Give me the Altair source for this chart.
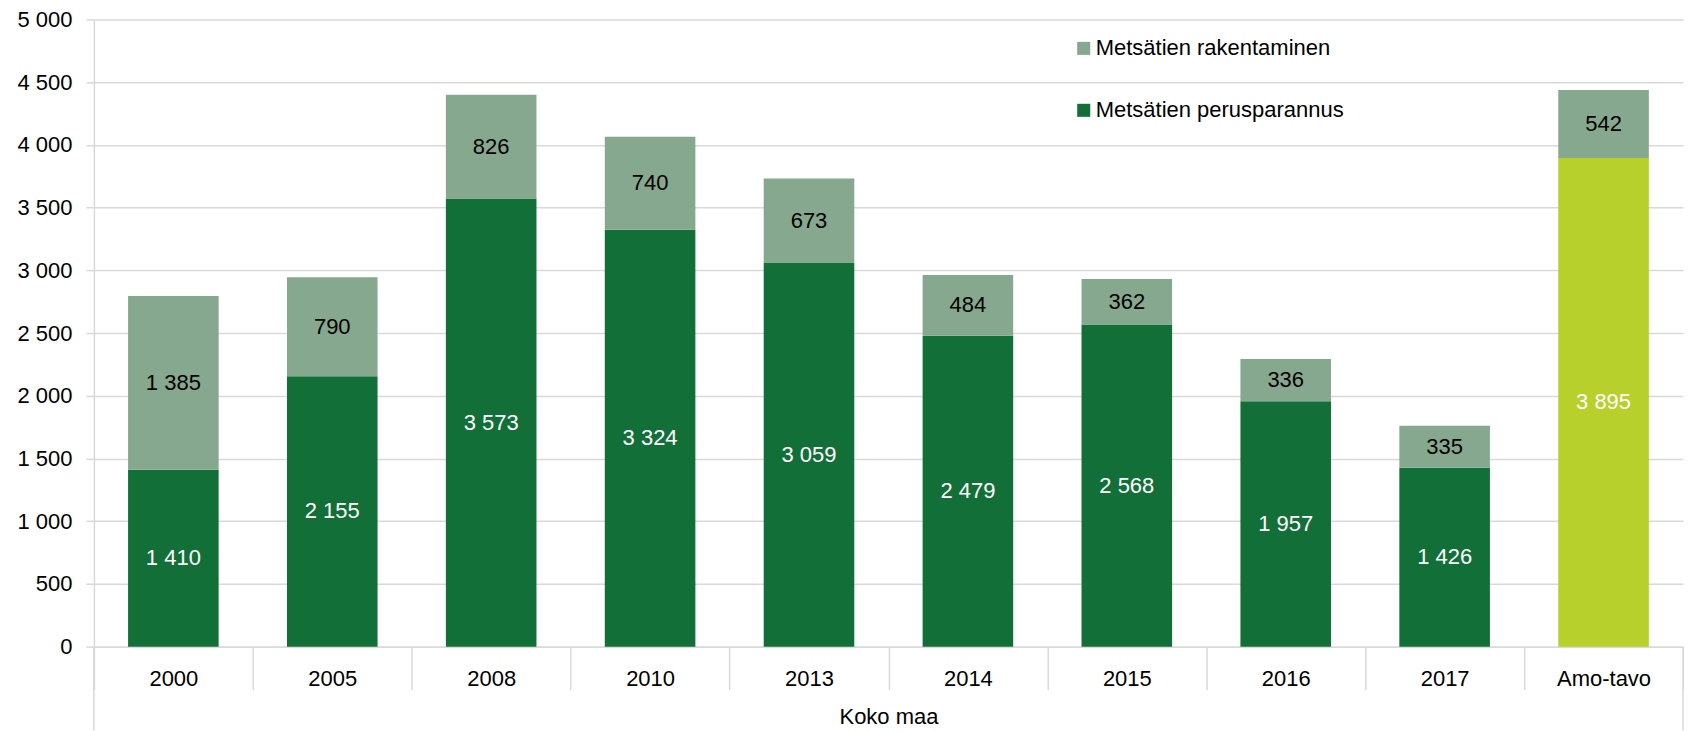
import altair as alt
import pandas as pd

categories = ["2000", "2005", "2008", "2010", "2013", "2014", "2015", "2016", "2017", "Amo-tavo"]
perusparannus = [1410, 2155, 3573, 3324, 3059, 2479, 2568, 1957, 1426, 3895]
rakentaminen = [1385, 790, 826, 740, 673, 484, 362, 336, 335, 542]
y_ticks = [0, 500, 1000, 1500, 2000, 2500, 3000, 3500, 4000, 4500, 5000]

S_RAK = "Metsätien rakentaminen"
S_PER = "Metsätien perusparannus"
S_AMO = "Amo-tavo perusparannus"

DARK = "#136f38"
LIGHT = "#86a88e"
LIME = "#b8d02c"
GRID = "#d9d9d9"


def fmt(v):
    return f"{v:,}".replace(",", " ")


rows = []
for c, p, r in zip(categories, perusparannus, rakentaminen):
    base = S_AMO if c == "Amo-tavo" else S_PER
    rows.append({"category": c, "series": base, "value": p, "order": 0,
                 "label": fmt(p), "tcolor": "white"})
    rows.append({"category": c, "series": S_RAK, "value": r, "order": 1,
                 "label": fmt(r), "tcolor": "black"})
df = pd.DataFrame(rows)

x_scale = alt.Scale(paddingInner=0, paddingOuter=0)

x_enc = alt.X(
    "category:N",
    sort=categories,
    scale=x_scale,
    axis=alt.Axis(
        title="Koko maa",
        labelAngle=0,
        labelFontSize=22,
        labelColor="black",
        labelPadding=-21,
        tickBand="extent",
        tickSize=43,
        tickColor=GRID,
        tickWidth=1.5,
        domainColor=GRID,
        domainWidth=1.5,
        titleFontSize=22,
        titleFontWeight="normal",
        titleColor="black",
        titlePadding=16,
    ),
)

y_enc = alt.Y(
    "value:Q",
    stack="zero",
    scale=alt.Scale(domain=[0, 5000], nice=False),
    axis=alt.Axis(
        title=None,
        values=y_ticks,
        labelExpr="replace(format(datum.value, ','), ',', ' ')",
        labelFontSize=22,
        labelColor="black",
        labelPadding=14,
        tickSize=8,
        tickColor=GRID,
        tickWidth=1.5,
        gridColor=GRID,
        gridWidth=1.5,
        domainColor=GRID,
        domainWidth=1.5,
    ),
)

bars = alt.Chart(df).mark_bar(width={"band": 0.57}).encode(
    x=x_enc,
    y=y_enc,
    order=alt.Order("order:Q", sort="ascending"),
    color=alt.Color(
        "series:N",
        scale=alt.Scale(domain=[S_RAK, S_PER, S_AMO], range=[LIGHT, DARK, LIME]),
        legend=alt.Legend(
            values=[S_RAK, S_PER],
            title=None,
            orient="none",
            legendX=980,
            legendY=18,
            symbolType="square",
            symbolSize=170,
            symbolStrokeWidth=0,
            labelFontSize=22,
            labelColor="black",
            labelOffset=1,
            labelLimit=0,
            rowPadding=40,
        ),
    ),
)

labels = alt.Chart(df).transform_stack(
    stack="value",
    groupby=["category"],
    sort=[alt.SortField("order", order="ascending")],
    as_=["y0", "y1"],
).transform_calculate(
    mid="(datum.y0 + datum.y1) / 2"
).mark_text(fontSize=22, baseline="middle", align="center").encode(
    x=alt.X("category:N", sort=categories, scale=x_scale),
    y=alt.Y("mid:Q"),
    text="label:N",
    color=alt.Color("tcolor:N", scale=None),
)

edge_df = pd.DataFrame({"category": [categories[0]], "last": [categories[-1]]})
left_rule = alt.Chart(edge_df).mark_rule(color=GRID, strokeWidth=1.5).encode(
    x=alt.X("category:N", sort=categories, scale=x_scale, bandPosition=0),
    y=alt.value(628),
    y2=alt.value(712),
)
right_rule = alt.Chart(edge_df).mark_rule(color=GRID, strokeWidth=1.5).encode(
    x=alt.X("last:N", sort=categories, scale=x_scale, bandPosition=1),
    y=alt.value(628),
    y2=alt.value(712),
)

chart = alt.layer(bars, labels, left_rule, right_rule).resolve_scale(
    color="independent"
).properties(
    width=1591,
    height=628,
    padding={"left": 8, "top": 0, "right": 0, "bottom": 0},
).configure(
    font="Liberation Sans"
).configure_view(stroke=None)

chart.save("out.html", embed_options={"renderer": "svg", "actions": False})
